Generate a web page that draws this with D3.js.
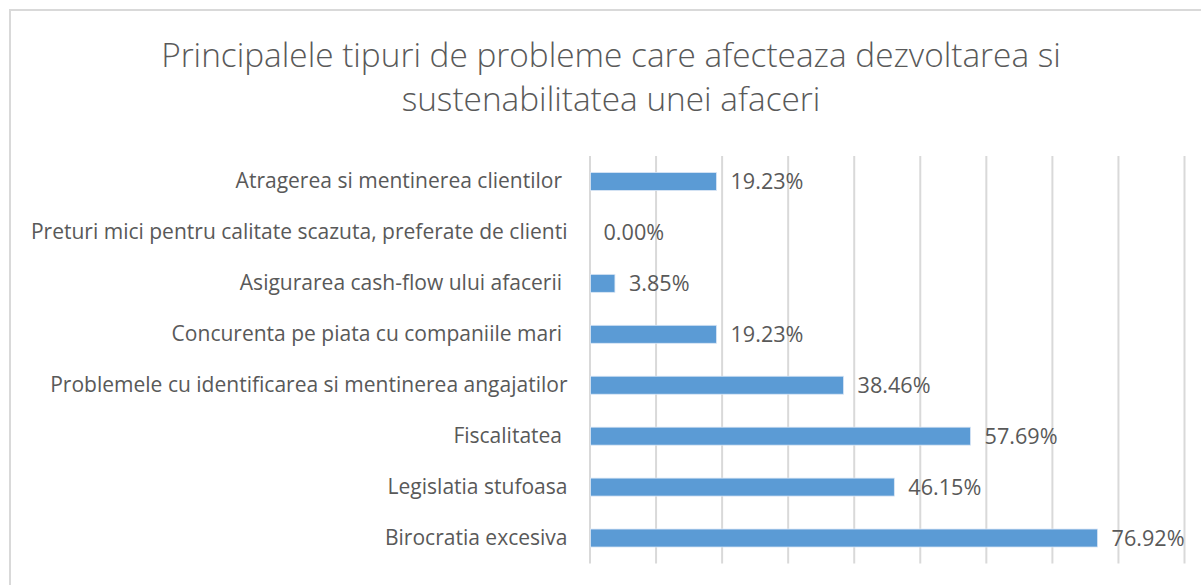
<!DOCTYPE html>
<html><head><meta charset="utf-8">
<script src="https://cdn.jsdelivr.net/npm/d3@7"></script>
<style>
html,body{margin:0;padding:0;background:#fff;}
svg{display:block;font-family:"Open Sans",Lato,sans-serif;}
</style></head>
<body>
<svg id="chart" width="1201" height="585"></svg>
<script>
const categories = [
  "Atragerea si mentinerea clientilor ",
  "Preturi mici pentru calitate scazuta, preferate de clienti",
  "Asigurarea cash-flow ului afacerii ",
  "Concurenta pe piata cu companiile mari ",
  "Problemele cu identificarea si mentinerea angajatilor",
  "Fiscalitatea ",
  "Legislatia stufoasa",
  "Birocratia excesiva"
];
const values = [0.1923, 0.0, 0.0385, 0.1923, 0.3846, 0.5769, 0.4615, 0.7692];
const valueLabels = ["19.23%", "0.00%", "3.85%", "19.23%", "38.46%", "57.69%", "46.15%", "76.92%"];
const xTicks = [0, 0.1, 0.2, 0.3, 0.4, 0.5, 0.6, 0.7, 0.8, 0.9];
const titleLines = ["Principalele tipuri de probleme care afecteaza dezvoltarea si", "sustenabilitatea unei afaceri"];

const svg = d3.select("#chart");
const textColor = "#595959";

// fit a font size so that a text sample reaches a target width
function fitSize(sample, base, target, weight) {
  const t = svg.append("text").style("font-size", base + "px").style("font-weight", weight || 400)
    .style("white-space", "pre").text(sample);
  const w = t.node().getComputedTextLength();
  t.remove();
  return base * target / w;
}
const titleSize = fitSize(titleLines[0], 30, 900, 300);
const catSize = fitSize(categories[1], 20, 537, 400);
const valSize = fitSize("76.92%", 20, 73, 400);

// chart border (left & top visible)
svg.append("rect").attr("x", 10).attr("y", 10).attr("width", 1300).attr("height", 700)
  .attr("fill", "#fff").attr("stroke", "#d9d9d9").attr("stroke-width", 2);

// title
const title = svg.append("text").attr("text-anchor", "middle").attr("fill", textColor)
  .style("font-weight", 300);
title.selectAll("tspan").data(titleLines).join("tspan")
  .attr("x", 611).attr("y", (d, i) => 67 + i * 44).text(d => d)
  .style("font-size", titleSize + "px");

const x = d3.scaleLinear().domain([0, 0.9]).range([589.5, 1184]);
const y = d3.scaleBand().domain(categories).range([156, 563.5]).paddingInner(0.647).paddingOuter(0.3235);

// gridlines
const grid = svg.append("g").attr("transform", "translate(0,156)")
  .call(d3.axisBottom(x).tickValues(xTicks).tickSize(563.5 - 156).tickFormat(""));
grid.select(".domain").remove();
grid.selectAll(".tick line").attr("stroke", "#d9d9d9").attr("stroke-width", 2);

// bars
svg.append("g").selectAll("rect").data(values).join("rect")
  .attr("x", x(0) + 1)
  .attr("y", (d, i) => y(categories[i]))
  .attr("width", d => Math.max(0, x(d) - x(0) - 1))
  .attr("height", y.bandwidth())
  .attr("fill", "#5b9bd5")
  .attr("stroke", d => d > 0 ? "#dbe7f5" : "none").attr("stroke-width", 0.8);

// category axis
const yAxis = svg.append("g").attr("transform", `translate(${x(0)},0)`)
  .call(d3.axisLeft(y).tickSize(0).tickPadding(22));
yAxis.select(".domain").remove();
yAxis.selectAll("text").attr("fill", textColor).style("font-size", catSize + "px")
  .style("white-space", "pre").style("font-family", "'Open Sans', Lato, sans-serif");

// value labels
svg.append("g").selectAll("text").data(values).join("text")
  .attr("x", d => x(d) + 14)
  .attr("y", (d, i) => y(categories[i]) + y.bandwidth() / 2)
  .attr("dy", "0.35em")
  .attr("fill", textColor).style("font-size", valSize + "px")
  .text((d, i) => valueLabels[i]);
</script>
</body></html>
